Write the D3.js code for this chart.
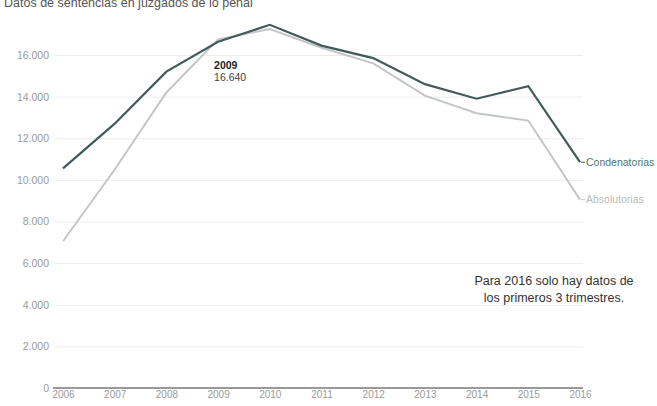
<!DOCTYPE html>
<html>
<head>
<meta charset="utf-8">
<script src="https://cdn.jsdelivr.net/npm/d3@7"></script>
<style>
  body { margin: 0; background: #fff; font-family: "Liberation Sans", Arial, sans-serif; }
  .grid line { stroke: #ececec; }
  .grid .domain { display: none; }
  .axis text { fill: #9a9a9a; font-size: 10.5px; }
  .axis .domain, .axis line { display: none; }
</style>
</head>
<body>
<svg width="657" height="406"></svg>
<script>
var years = [2006, 2007, 2008, 2009, 2010, 2011, 2012, 2013, 2014, 2015, 2016];
var condenatorias = [10550, 12700, 15200, 16640, 17450, 16450, 15850, 14600, 13900, 14500, 10850];
var absolutorias = [7050, 10500, 14200, 16750, 17250, 16350, 15600, 14050, 13200, 12850, 9050];
var yTicks = [0, 2000, 4000, 6000, 8000, 10000, 12000, 14000, 16000];

var svg = d3.select("svg");

var x = d3.scaleLinear()
          .domain([2006, 2016])
          .range([63, 580]);

var y = d3.scaleLinear()
          .domain([0, 16000])
          .range([388, 55]);

var fmt = function(d) { return d3.format(",")(d).replace(/,/g, "."); };

// title, partly cut off at the top like the source
svg.append("text")
    .attr("x", 4)
    .attr("y", 7)
    .attr("fill", "#555")
    .style("font-size", "12.5px")
    .text("Datos de sentencias en juzgados de lo penal");

// grid
svg.append("g")
    .attr("class", "grid")
    .attr("transform", "translate(55,0)")
    .call(d3.axisRight(y).tickValues(yTicks.slice(1)).tickSize(528).tickFormat(""));

// y labels
svg.append("g")
    .attr("class", "axis")
    .attr("transform", "translate(50,0)")
    .call(d3.axisLeft(y).tickValues(yTicks).tickSize(0).tickPadding(1).tickFormat(fmt));

// baseline
svg.append("line")
    .attr("x1", 53).attr("x2", 583)
    .attr("y1", y(0)).attr("y2", y(0))
    .attr("stroke", "#777")
    .attr("stroke-width", 1.5);

// x labels
svg.append("g")
    .attr("class", "axis")
    .attr("transform", "translate(0," + (y(0) + 1) + ")")
    .call(d3.axisBottom(x).tickValues(years).tickSize(0).tickPadding(2).tickFormat(d3.format("d")))
  .selectAll("text")
    .style("font-size", "10px");

var line = d3.line()
    .x(function(d, i) { return x(years[i]); })
    .y(function(d) { return y(d); });

svg.append("path")
    .datum(absolutorias)
    .attr("fill", "none")
    .attr("stroke", "#c3c6c6")
    .attr("stroke-width", 2)
    .attr("d", line);

svg.append("path")
    .datum(condenatorias)
    .attr("fill", "none")
    .attr("stroke", "#3f5c5b")
    .attr("stroke-width", 2.2)
    .attr("d", line);

// end labels
var last = years.length - 1;
[["Condenatorias", condenatorias, "#4e7775", "#3f5c5b"],
 ["Absolutorias", absolutorias, "#b9bdbd", "#c3c6c6"]].forEach(function(s) {
  var yy = y(s[1][last]);
  svg.append("line")
      .attr("x1", x(years[last]) + 1).attr("x2", x(years[last]) + 5)
      .attr("y1", yy).attr("y2", yy)
      .attr("stroke", s[3]);
  svg.append("text")
      .attr("x", x(years[last]) + 6)
      .attr("y", yy)
      .attr("dy", "0.35em")
      .attr("fill", s[2])
      .style("font-size", "10.5px")
      .text(s[0]);
});

// 2009 annotation
var ai = years.indexOf(2009);
svg.append("text")
    .attr("x", x(2009) - 4)
    .attr("y", y(condenatorias[ai]) + 27)
    .attr("fill", "#222")
    .style("font-size", "10.5px")
    .style("font-weight", "bold")
    .text("2009");
svg.append("text")
    .attr("x", x(2009) - 4)
    .attr("y", y(condenatorias[ai]) + 39)
    .attr("fill", "#444")
    .style("font-size", "10.5px")
    .text(fmt(condenatorias[ai]));

// note
svg.append("text")
    .attr("x", 554)
    .attr("y", 285)
    .attr("text-anchor", "middle")
    .attr("fill", "#333")
    .style("font-size", "12.5px")
    .text("Para 2016 solo hay datos de");
svg.append("text")
    .attr("x", 554)
    .attr("y", 302)
    .attr("text-anchor", "middle")
    .attr("fill", "#333")
    .style("font-size", "12.5px")
    .text("los primeros 3 trimestres.");
</script>
</body>
</html>
